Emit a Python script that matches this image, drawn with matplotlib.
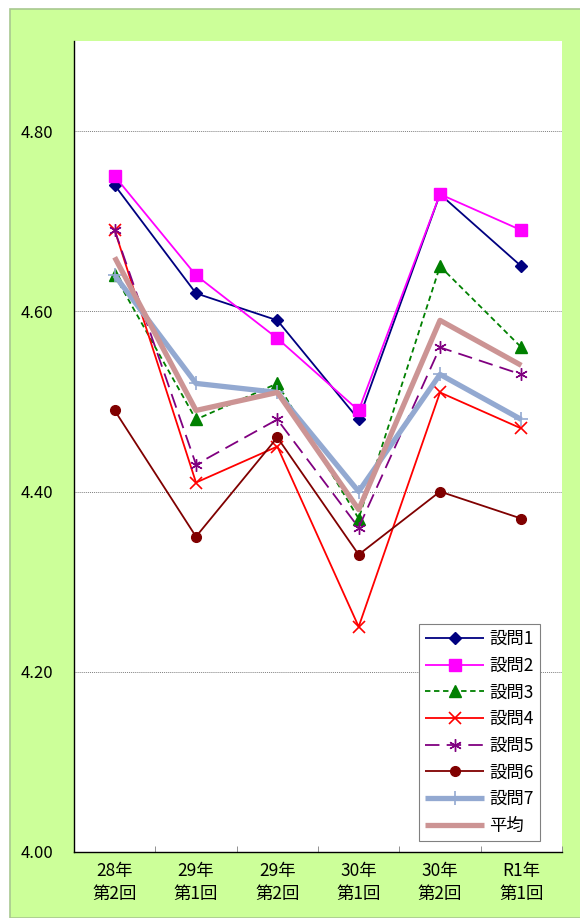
import matplotlib
matplotlib.use("Agg")
import matplotlib.pyplot as plt
from matplotlib.patches import Rectangle

plt.rcParams['font.family'] = ['Noto Sans CJK JP', 'DejaVu Sans']

categories = ["28年\n第2回", "29年\n第1回", "29年\n第2回", "30年\n第1回", "30年\n第2回", "R1年\n第1回"]
q1 = [4.74, 4.62, 4.59, 4.48, 4.73, 4.65]
q2 = [4.75, 4.64, 4.57, 4.49, 4.73, 4.69]
q3 = [4.64, 4.48, 4.52, 4.37, 4.65, 4.56]
q4 = [4.69, 4.41, 4.45, 4.25, 4.51, 4.47]
q5 = [4.69, 4.43, 4.48, 4.36, 4.56, 4.53]
q6 = [4.49, 4.35, 4.46, 4.33, 4.40, 4.37]
q7 = [4.64, 4.52, 4.51, 4.40, 4.53, 4.48]
avg = [4.66, 4.49, 4.51, 4.38, 4.59, 4.54]
series_names = ["設問1", "設問2", "設問3", "設問4", "設問5", "設問6", "設問7", "平均"]
yticks = [4.00, 4.20, 4.40, 4.60, 4.80]

fig = plt.figure(figsize=(5.8, 9.18), dpi=100)
fig.patch.set_facecolor('white')
fig.patches.append(Rectangle((10/580, 0), 1 - 10/580 + 0.01, (918-9)/918,
                             transform=fig.transFigure, facecolor='#CCFF99',
                             edgecolor='#A8C890', linewidth=1.2, zorder=-10))

ax = fig.add_axes([74/580, 66/918, 488/580, 811/918])
ax.set_zorder(1)
ax.set_facecolor('white')
x = list(range(len(categories)))

styles = [
    dict(color='#000080', lw=1.3, marker='D', ms=6, ls='-'),
    dict(color='#FF00FF', lw=1.3, marker='s', ms=8, ls='-'),
    dict(color='#008000', lw=1.3, marker='^', ms=8, ls=(0, (3, 2))),
    dict(color='#FF0000', lw=1.3, marker='x', ms=8, mew=1.2, ls='-'),
    dict(color='#800080', lw=1.3, marker=(6, 2, 0), ms=9, mew=1.0, ls=(0, (8, 4))),
    dict(color='#800000', lw=1.3, marker='o', ms=7, ls='-'),
    dict(color='#93A9D1', lw=3.8, marker='+', ms=10, mew=1.2, ls='-'),
    dict(color='#CC9494', lw=3.8, marker=None, ls='-'),
]
data = [q1, q2, q3, q4, q5, q6, q7, avg]
for name, vals, st in zip(series_names, data, styles):
    ax.plot(x, vals, label=name, solid_capstyle='butt', **st)

ax.set_xlim(-0.5, len(categories) - 0.5)
ax.set_ylim(4.0, 4.9)
ax.set_yticks(yticks)
ax.set_yticklabels([f"{v:.2f}" for v in yticks], fontsize=12)
ax.yaxis.grid(True, color='#808080', ls=(0, (1, 1)), lw=0.7)
ax.set_axisbelow(True)
ax.tick_params(axis='y', length=0, pad=15)
ax.set_xticks(x)
ax.set_xticklabels(categories, fontsize=12.5, linespacing=1.35)
ax.set_xticks([i + 0.5 for i in x], minor=True)
ax.tick_params(axis='x', which='major', length=0, pad=7)
ax.tick_params(axis='x', which='minor', length=4, direction='in', color='#808080')
for s in ['top', 'right']:
    ax.spines[s].set_visible(False)
for s in ['left', 'bottom']:
    ax.spines[s].set_color('black')
    ax.spines[s].set_linewidth(1.0)

leg = ax.legend(loc='lower right', bbox_to_anchor=(466/488, 11/811), fontsize=12.5,
                frameon=True, fancybox=False, edgecolor='#808080', framealpha=1,
                handlelength=3.4, labelspacing=0.5, borderpad=0.35, handletextpad=0.3,
                borderaxespad=0)
leg.get_frame().set_linewidth(0.8)

fig.savefig("out.png", dpi=100, facecolor=fig.get_facecolor())
